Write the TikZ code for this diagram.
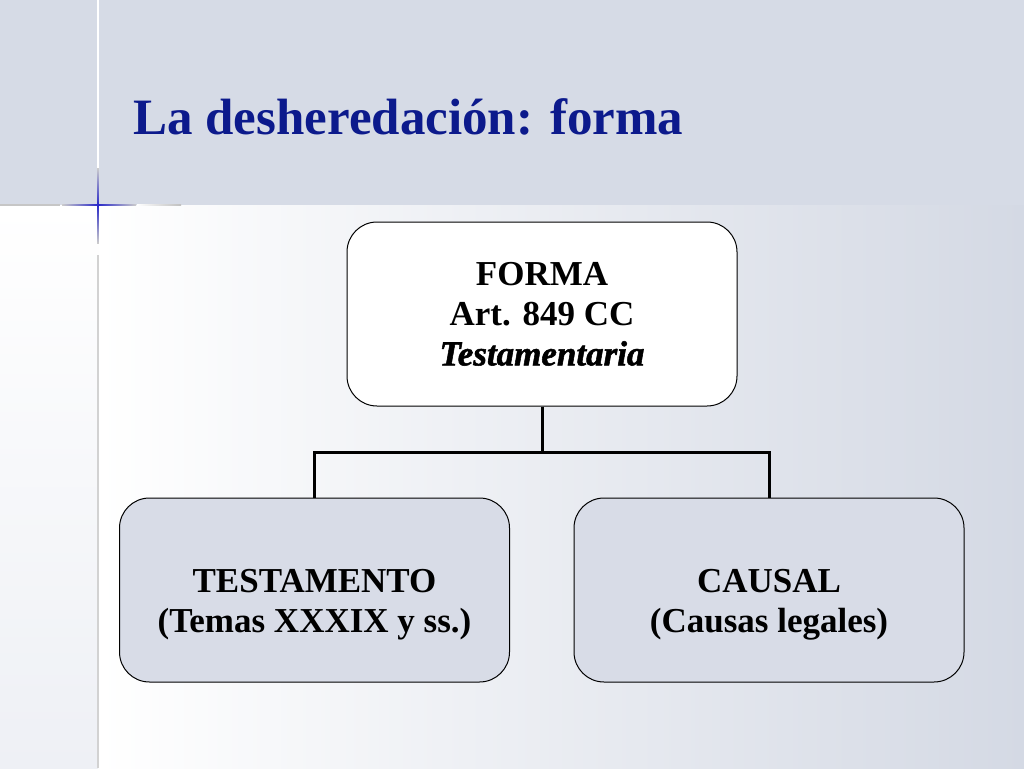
\documentclass[tikz,border=0pt]{standalone}
\usepackage{fontspec}
\setmainfont{Liberation Serif}[BoldItalicFeatures={FakeBold=1.5}]
\usetikzlibrary{positioning}
\definecolor{bandgray}{RGB}{214,219,230}
\definecolor{gradgray}{RGB}{212,217,228}
\definecolor{stripgray}{RGB}{238,240,245}
\definecolor{boxgray}{RGB}{216,220,231}
\definecolor{titleblue}{RGB}{12,26,140}
\definecolor{crossblue}{RGB}{40,40,200}
% text set a little lower in its box
\newcommand{\lowtext}[1]{\raisebox{-14pt}[\height][\depth]{\begin{tabular}{@{}c@{}}#1\end{tabular}}}

\begin{document}
\begin{tikzpicture}[x=1pt, y=-1pt,
    box/.style={draw, rounded corners=30pt, minimum width=390pt, minimum height=184pt,
      align=center, line width=1pt, font=\fontsize{35}{40}\selectfont\bfseries},
    link/.style={line width=3pt}]
  \useasboundingbox (0,0) rectangle (1024,768);
  % background
  \fill[bandgray] (0,0) rectangle (1024,205);
  \shade[left color=white, right color=gradgray] (98,205) rectangle (1024,768);
  \shade[top color=white, bottom color=stripgray] (0,205) rectangle (98,768);
  % corner cross
  \fill[white] (97.2,0) rectangle (98.8,168);
  \shade[top color=gray!40, bottom color=crossblue] (97.2,168) rectangle (98.8,205);
  \shade[top color=crossblue, bottom color=gray!40] (97.2,205) rectangle (98.8,243);
  \fill[gray!35] (97.2,255) rectangle (98.8,768);
  \fill[gray!45] (0,204.3) rectangle (60,205.8);
  \shade[left color=gray!40, right color=crossblue] (62,204.3) rectangle (98,205.8);
  \shade[left color=crossblue, right color=gray!40] (98,204.3) rectangle (136,205.8);
  \shade[left color=white, right color=gray!50] (137,204.3) rectangle (181,205.8);
  % title
  \node[anchor=base west, inner sep=0pt, text=titleblue,
    font=\fontsize{51}{60}\selectfont\bfseries] (title) at (133,134) {La desheredación: forma};
  % boxes
  \node[box, fill=white] (forma) at (542,314) {FORMA\\Art. 849 CC\\{\bfseries\itshape Testamentaria}};
  \node[box, fill=boxgray] (testamento) at (314.5,590) {\lowtext{TESTAMENTO\\(Temas XXXIX y ss.)}};
  \node[box, fill=boxgray] (causal) at (769,590) {\lowtext{CAUSAL\\(Causas legales)}};
  % connectors
  \draw[link] (forma.south) -- ++(0,46) -| (testamento.north);
  \draw[link] (forma.south) -- ++(0,46) -| (causal.north);
\end{tikzpicture}
\end{document}
